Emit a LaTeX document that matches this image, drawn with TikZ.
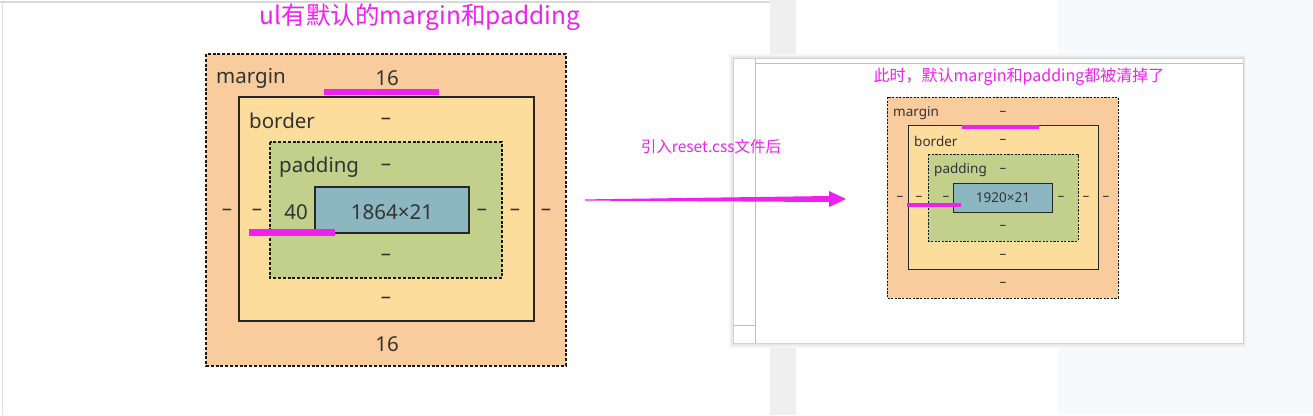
\documentclass[tikz,border=0pt]{standalone}
\usepackage{fontspec}
\setmainfont{Noto Sans}
\newfontfamily\cjk{Noto Sans CJK SC}
\usetikzlibrary{calc,positioning}
\definecolor{mgcol}{HTML}{F9CC9D}
\definecolor{bdcol}{HTML}{FDDD9B}
\definecolor{pdcol}{HTML}{C3D08B}
\definecolor{ctcol}{HTML}{8CB6C0}
\definecolor{hlpink}{HTML}{F020F0}
\definecolor{txtgray}{HTML}{333333}
\definecolor{stripgray}{HTML}{EFEFEF}
\definecolor{pagegray}{HTML}{F8F9FA}

\begin{document}
\begin{tikzpicture}[x=1pt, y=-1pt,
    lbl/.style={font=\fontsize{20.5}{24}\selectfont, text=txtgray, inner sep=0pt},
    slbl/.style={font=\fontsize{13.5}{16}\selectfont, text=txtgray, inner sep=0pt},
    dashbox/.style={draw=black!90, line width=1.3pt, dash pattern=on 3pt off 1.8pt},
    solidbox/.style={draw=black!85, line width=1.3pt},
    hl/.style={fill=hlpink, draw=none},
    note/.style={text=hlpink, inner sep=0pt}]
    \useasboundingbox (0,0) rectangle (1313,415);

    % sfondo
    \fill[stripgray] (770,0) rectangle (796,415);
    \fill[pagegray] (1058,0) rectangle (1313,415);
    \draw[black!15, line width=1.5pt] (0,2) -- (770,2);
    \draw[black!12, line width=1pt] (2.5,2) -- (2.5,415);

    % box model a sinistra
    \node[note, font=\cjk\fontsize{24.5}{28}\selectfont] (ltitle) at (420,17) {ul有默认的margin和padding};
    \draw[dashbox, fill=mgcol] (206,54) rectangle (566,366);
    \draw[solidbox, fill=bdcol] (239,97) rectangle (534,321);
    \draw[dashbox, fill=pdcol] (270,142) rectangle (502,278);
    \draw[solidbox, fill=ctcol] (315,187) rectangle (469,233);
    \node[lbl, anchor=west] (lmgtxt) at (216,78) {margin};
    \node[lbl] (lmgtop) at (387,78) {16};
    \node[lbl, anchor=west] (lbdtxt) at (249,121) {border};
    \node[lbl] (lbdtop) at (386,121) {–};
    \node[lbl, anchor=west] (lpdtxt) at (279,167) {padding};
    \node[lbl] (lpdtop) at (386,167) {–};
    \node[lbl] (lpdleft) at (296,212) {40};
    \node[lbl] (lsize) at (392,212) {1864×21};
    \node[lbl] (lpdright) at (482,212) {–};
    \node[lbl] (lbdright) at (515,212) {–};
    \node[lbl] (lmgright) at (546,212) {–};
    \node[lbl] (lmgleft) at (227,212) {–};
    \node[lbl] (lbdleft) at (257,212) {–};
    \node[lbl] (lpdbot) at (386,257) {–};
    \node[lbl] (lbdbot) at (386,300) {–};
    \node[lbl] (lmgbot) at (387,344) {16};
    \fill[hl] (324,89) rectangle (439,95);
    \fill[hl] (249,229) rectangle (335,236);

    % finestra a destra
    \fill[black!4] (729,54) rectangle (1247,348);
    \fill[black!9] (731,56) rectangle (1245,346);
    \filldraw[fill=white, draw=black!18] (733,58) rectangle (1243,343);
    \draw[black!25] (755,58) -- (755,343);
    \draw[black!25] (755,63) -- (1243,63);
    \draw[black!25] (733,325) -- (755,325);
    \node[note, font=\cjk\fontsize{16}{19}\selectfont] (rtitle) at (1019,77) {此时，默认margin和padding都被清掉了};
    \draw[dashbox, line width=0.9pt, dash pattern=on 2.2pt off 1.4pt, fill=mgcol] (887,97) rectangle (1118,298);
    \draw[solidbox, line width=0.9pt, fill=bdcol] (908,125) rectangle (1098,269);
    \draw[dashbox, line width=0.9pt, dash pattern=on 2.2pt off 1.4pt, fill=pdcol] (928,154) rectangle (1078,241);
    \draw[solidbox, line width=0.9pt, fill=ctcol] (953,183) rectangle (1052,212);
    \node[slbl, anchor=west] (rmgtxt) at (893,113) {margin};
    \node[slbl] (rmgtop) at (1003,113) {–};
    \node[slbl, anchor=west] (rbdtxt) at (914,141) {border};
    \node[slbl] (rbdtop) at (1003,141) {–};
    \node[slbl, anchor=west] (rpdtxt) at (934,170) {padding};
    \node[slbl] (rpdtop) at (1003,170) {–};
    \node[slbl] (rsize) at (1003,198) {1920×21};
    \node[slbl] (rmgleft) at (900,198) {–};
    \node[slbl] (rbdleft) at (919,198) {–};
    \node[slbl] (rpdleft) at (946,198) {–};
    \node[slbl] (rpdright) at (1061,198) {–};
    \node[slbl] (rbdright) at (1086,198) {–};
    \node[slbl] (rmgright) at (1106,198) {–};
    \node[slbl] (rpdbot) at (1003,227) {–};
    \node[slbl] (rbdbot) at (1003,256) {–};
    \node[slbl] (rmgbot) at (1003,284) {–};
    \fill[hl] (962,125) rectangle (1039,128.5);
    \fill[hl] (907,203) rectangle (961,206.5);

    % freccia
    \node[note, font=\cjk\fontsize{15.5}{18}\selectfont] (arrtxt) at (711,147) {引入reset.css文件后};
    \coordinate (arrtail) at (585,200);
    \coordinate (arrtip) at (846,199);
    \fill[hlpink] ($(arrtail)+(0,-0.6)$) -- ($(arrtip)+(-17,-3)$) -- ($(arrtip)+(-17,-8)$) -- (arrtip)
        -- ($(arrtip)+(-17,8)$) -- ($(arrtip)+(-17,3)$) -- ($(arrtail)+(0,0.6)$) -- cycle;
\end{tikzpicture}
\end{document}
